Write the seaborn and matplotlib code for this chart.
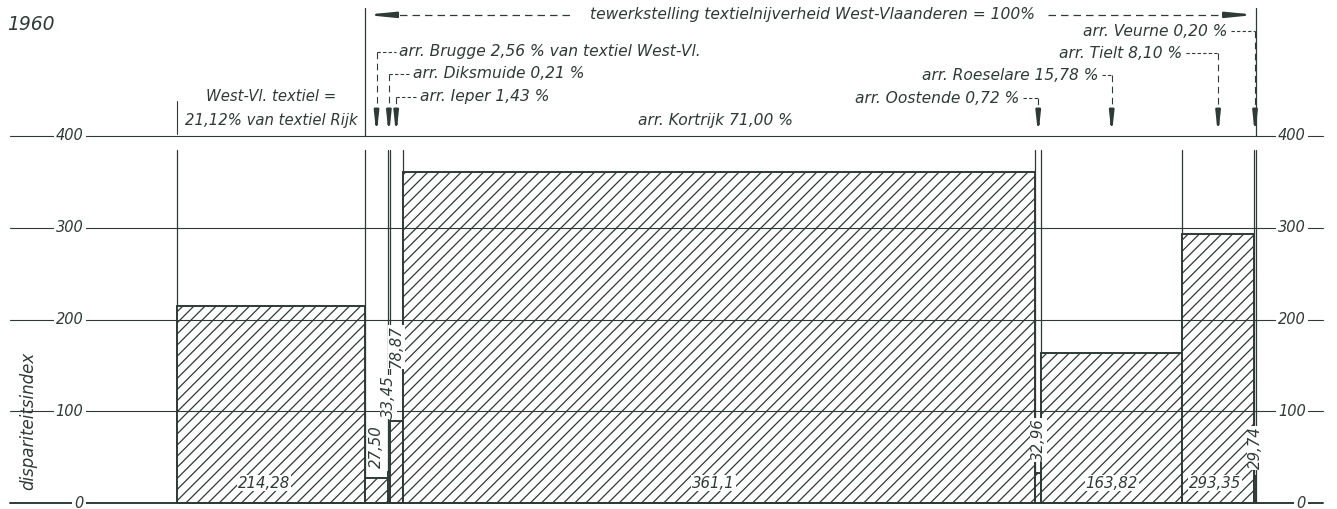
import matplotlib

matplotlib.use("Agg")
import matplotlib.pyplot as plt
import numpy as np
import pandas as pd
import seaborn as sns

# width of each column = share of textile employment (%), height = disparity index
regions = ["West-Vl.", "Brugge", "Diksmuide", "Ieper", "Kortrijk",
           "Oostende", "Roeselare", "Tielt", "Veurne"]
shares = [21.12, 2.56, 0.21, 1.43, 71.00, 0.72, 15.78, 8.10, 0.20]
# Ieper is drawn at about 89 in the original although its label says 78,87
index_values = [214.28, 27.50, 33.45, 88.9, 361.1, 32.96, 163.82, 293.35, 29.74]
value_labels = ["214,28", "27,50", "33,45", "78,87", "361,1",
                "32,96", "163,82", "293,35", "29,74"]
share_labels = ["", "arr. Brugge 2,56 % van textiel West-Vl.", "arr. Diksmuide 0,21 %",
                "arr. Ieper 1,43 %", "arr. Kortrijk 71,00 %", "arr. Oostende 0,72 %",
                "arr. Roeselare 15,78 %", "arr. Tielt 8,10 %", "arr. Veurne 0,20 %"]
y_ticks = [0, 100, 200, 300, 400]

INK = "#2e3a36"
FS = 10.5
FS_ARR = 11.2

sns.set_theme(style="white")
plt.rcParams["font.family"] = ["DejaVu Sans"]
plt.rcParams["hatch.linewidth"] = 0.9
plt.rcParams["hatch.color"] = INK

edges = np.concatenate([[0.0], np.cumsum(shares)])
centers = (edges[:-1] + edges[1:]) / 2
df = pd.DataFrame({"region": regions, "center": centers, "index": index_values})

fig = plt.figure(figsize=(13.37, 5.09), dpi=100)
ax = fig.add_axes([0, 0, 1, 1])

sns.histplot(data=df, x="center", weights="index", bins=list(edges), ax=ax,
             color="white", edgecolor=INK, linewidth=1.4, alpha=1, zorder=2)
for p in ax.patches:
    p.set_hatch("///")
    p.set_facecolor("white")
    p.set_edgecolor(INK)

ax.set_xlim(-19.87, 130.22)
ax.set_ylim(-6.5, 548.2)
ax.set_axis_off()

txt = dict(color=INK, fontsize=FS, style="italic")
arr_txt = dict(color=INK, fontsize=FS_ARR, style="italic")
white = dict(facecolor="white", edgecolor="none", pad=1.5)

# gridlines with labels on both sides
for y in y_ticks:
    ax.plot([-18.8, 128.6], [y, y], color=INK, lw=1.4 if y == 0 else 0.8, zorder=3)
    ax.text(-10.5, y, str(y), ha="right", va="center", bbox=white, zorder=4, **txt)
    ax.text(126.7, y, str(y), ha="right", va="center", bbox=white, zorder=4, **txt)

# column boundaries below the 400 line
for e in edges:
    ax.plot([e, e], [0, 385], color=INK, lw=0.9, zorder=1)

# boundaries above the 400 line
ax.plot([edges[0], edges[0]], [402, 438], color=INK, lw=0.8)
for e in (edges[1], edges[-1]):
    ax.plot([e, e], [400, 540], color=INK, lw=0.9)

dash = (0, (6, 4))

# top bracket: West-Vlaanderen = 100 %
top_y = 532
ax.text(71.3, top_y, "tewerkstelling textielnijverheid West-Vlaanderen = 100%",
        ha="center", va="center", **arr_txt)
ax.plot([edges[1] + 2.5, 44.6], [top_y, top_y], color=INK, lw=0.9, ls=dash)
ax.plot([97.8, edges[-1] - 2.5], [top_y, top_y], color=INK, lw=0.9, ls=dash)
for tip, tail in ((edges[1], edges[1] + 3.3), (edges[-1], edges[-1] - 3.3)):
    ax.annotate("", xy=(tip, top_y), xytext=(tail, top_y),
                arrowprops=dict(arrowstyle="-|>,head_length=1.3,head_width=0.13",
                                color=INK, lw=1.6, shrinkA=0, shrinkB=0))

# West-Vl. total label
ax.text(centers[0], 443, "West-Vl. textiel =", ha="center", va="center",
        color=INK, fontsize=10.7, style="italic")
ax.text(centers[0], 417, "21,12% van textiel Rijk", ha="center", va="center",
        color=INK, fontsize=10.7, style="italic")

# Kortrijk label (no leader)
ax.text(centers[4] - 0.4, 417, share_labels[4], ha="center", va="center", **arr_txt)


def leader(i, y, text_x, side):
    cx = centers[i]
    ax.plot([cx, cx], [y, 418], color=INK, lw=0.8, ls=dash)
    ax.annotate("", xy=(cx, 401), xytext=(cx, 420),
                arrowprops=dict(arrowstyle="-|>,head_length=0.9,head_width=0.1",
                                color=INK, lw=1.8, shrinkA=0, shrinkB=0))
    if side == "right":
        ax.plot([cx, text_x - 0.3], [y, y], color=INK, lw=0.8, ls=(0, (3, 2)))
        ax.text(text_x, y, share_labels[i], ha="left", va="center", **arr_txt)
    else:
        ax.plot([text_x + 0.4, cx], [y, y], color=INK, lw=0.8, ls=(0, (3, 2)))
        ax.text(text_x, y, share_labels[i], ha="right", va="center", **arr_txt)


leader(1, 492, 24.9, "right")
leader(2, 468, 26.5, "right")
leader(3, 443, 27.3, "right")
leader(5, 441, 94.6, "left")
leader(6, 466, 103.4, "left")
leader(7, 490, 112.9, "left")
leader(8, 514, 117.9, "left")

# value labels: (x offset from column centre, y, rotation)
label_pos = {0: (-0.8, 21.8, 0), 1: (0, 61, 90), 2: (0, 115.5, 90), 3: (0, 170, 90),
             4: (-0.6, 21.8, 0), 5: (0, 68.7, 90), 6: (0, 21.8, 0), 7: (-0.3, 21.8, 0),
             8: (0, 60, 90)}
for i, (dx, y, rot) in label_pos.items():
    ax.text(centers[i] + dx, y, value_labels[i], ha="center", va="center", rotation=rot,
            bbox=dict(facecolor="white", edgecolor="none", pad=0.6), zorder=5,
            color=INK, fontsize=10.8, style="italic")

ax.text(-16.7, 89, "dispariteitsindex", rotation=90, ha="center", va="center",
        color=INK, fontsize=12, style="italic")
ax.text(-19.1, 521, "1960", ha="left", va="center", color=INK, fontsize=13.5,
        style="italic")

fig.savefig("out.png", dpi=100, facecolor="white")
